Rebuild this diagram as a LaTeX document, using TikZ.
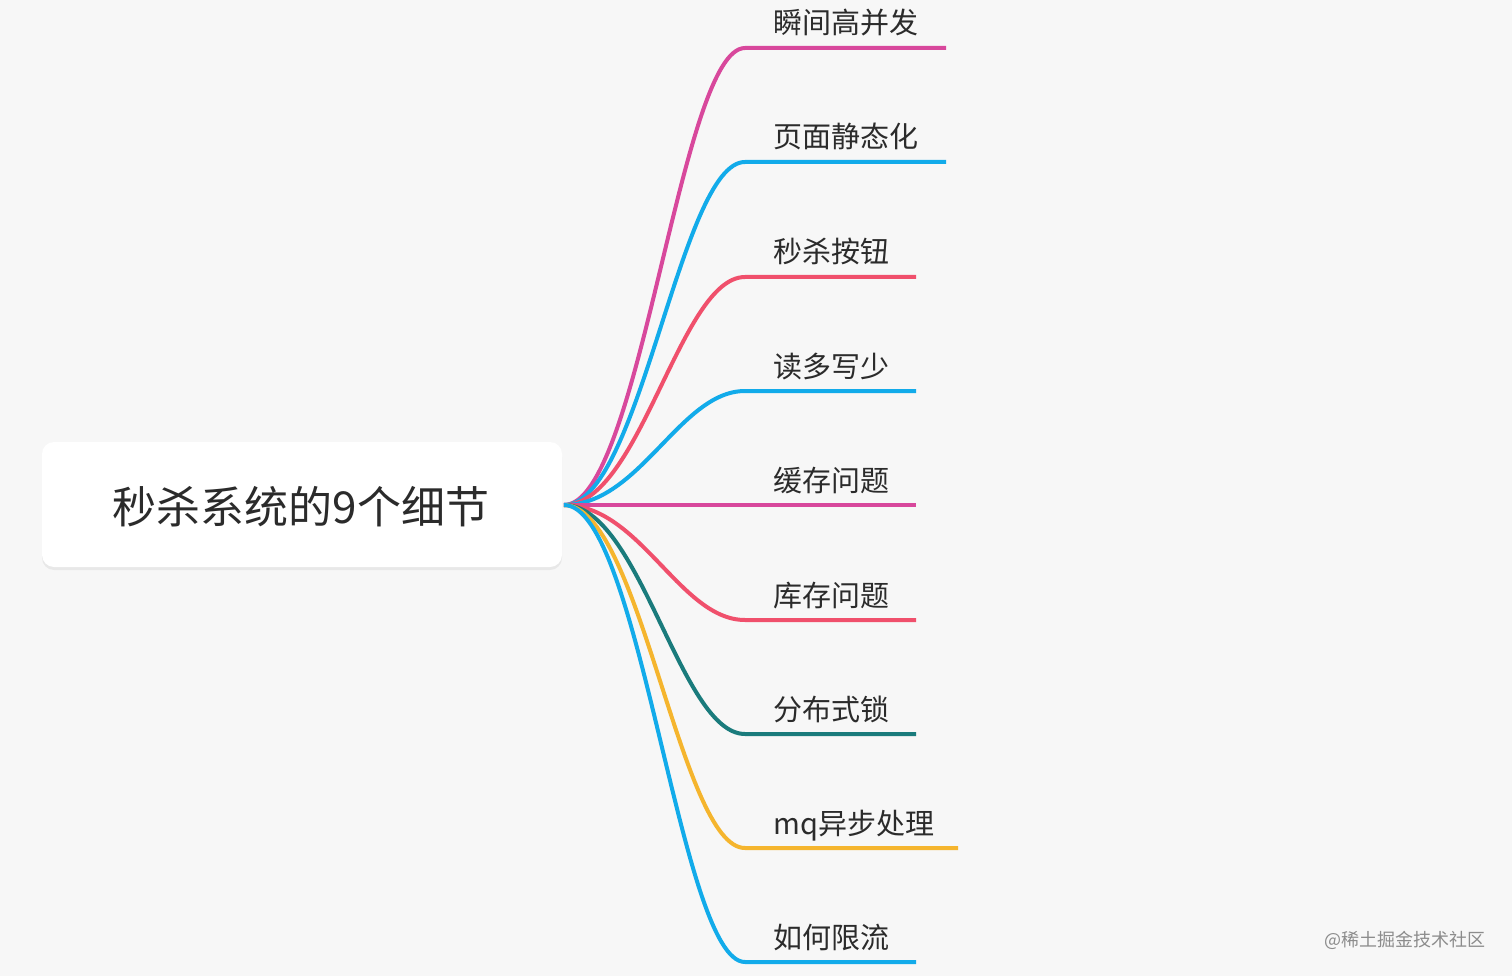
\documentclass[tikz,border=0pt]{standalone}
\usepackage{fontspec}
\newfontfamily\cjk{Noto Sans CJK SC}
\usetikzlibrary{shadows}
\definecolor{bg}{HTML}{F7F7F7}
\definecolor{cmag}{HTML}{D8489C}
\definecolor{cblue}{HTML}{12ABEA}
\definecolor{cred}{HTML}{F0506C}
\definecolor{cteal}{HTML}{1A7B7C}
\definecolor{cyel}{HTML}{F5B52E}
\definecolor{txt}{HTML}{2B2B2B}
\tikzset{
  rootbox/.style={fill=white, rounded corners=12pt, minimum width=520pt, minimum height=125pt, inner sep=0pt,
    drop shadow={opacity=0.12, shadow xshift=0pt, shadow yshift=-3pt}},
  roottext/.style={font=\cjk\fontsize{44}{50}\selectfont, text=txt},
  leaf/.style={font=\cjk\fontsize{29}{34}\selectfont, text=txt, anchor=base west, inner sep=0pt},
  branch/.style={line width=4pt, line cap=butt},
  mark/.style={}
}
\begin{document}
\begin{tikzpicture}[x=1pt,y=-1pt]
\useasboundingbox (0,0) rectangle (1512,976);
\fill[bg] (0,0) rectangle (1512,976);
\node[rootbox] (root) at (302,504.5) {};
\node[roottext] (roottxt) at (301,507) {秒杀系统的9个细节};
\coordinate (o) at (564,505);
% branches: y, end x, colour, text
\foreach \i/\y/\ex/\c/\t in {
  1/48/946/cmag/瞬间高并发,
  2/162/946/cblue/页面静态化,
  3/277/916/cred/秒杀按钮,
  4/391/916/cblue/读多写少,
  5/505/916/cmag/缓存问题,
  6/620/916/cred/库存问题,
  7/734/916/cteal/分布式锁,
  8/848/958/cyel/mq异步处理,
  9/962/916/cblue/如何限流}{
  \coordinate (s\i) at (745,\y);
  \coordinate (e\i) at (\ex,\y);
  \node[leaf] (l\i) at (773,\y-14) {\t};
  \draw[branch, draw=\c] (o) .. controls (640,505) and (680,\y) .. (s\i) -- (e\i);
}
\node[font=\cjk\fontsize{18}{20}\selectfont, text=black!45, anchor=east, inner sep=0pt] (wm) at (1486,940) {@稀土掘金技术社区};
\end{tikzpicture}
\end{document}
